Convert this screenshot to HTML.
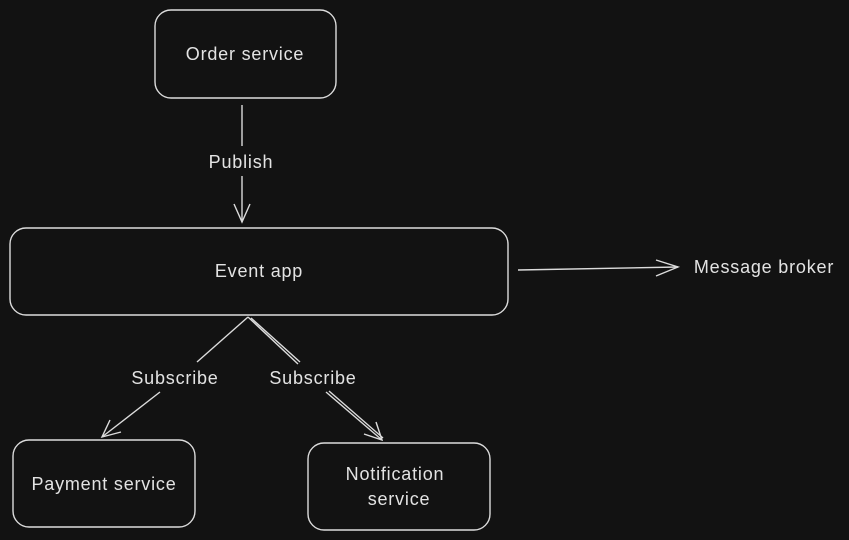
<!DOCTYPE html>
<html><head><meta charset="utf-8"><style>
html,body{margin:0;padding:0;background:#121212;}
svg{display:block}
text{font-family:"Liberation Sans",sans-serif;font-size:18px;fill:#e3e3e3;letter-spacing:0.8px;}
</style></head><body>
<svg width="849" height="540" viewBox="0 0 849 540">
<rect width="849" height="540" fill="#121212"/>
<g fill="none" stroke="#dcdcdc" stroke-width="1.4">
<rect x="155" y="10" width="181" height="88" rx="16"/>
<rect x="10" y="228" width="498" height="87" rx="16"/>
<rect x="13" y="440" width="182" height="87" rx="16"/>
<rect x="308" y="443" width="182" height="87" rx="16"/>
<line x1="242" y1="105" x2="242" y2="146"/>
<line x1="242" y1="176" x2="242" y2="222"/>
<polyline points="234,204 242,222 250,204"/>
<line x1="518" y1="270" x2="678" y2="267"/>
<polyline points="656,260 678,267 656,276"/>
<line x1="248" y1="317" x2="197" y2="362"/>
<line x1="160" y1="392" x2="102" y2="437"/>
<polyline points="110,420 102,437 121,432"/>
<line x1="248" y1="317" x2="298" y2="364"/>
<line x1="251" y1="318" x2="300" y2="362"/>
<line x1="326" y1="392" x2="382" y2="440"/>
<line x1="329" y1="391" x2="383" y2="438"/>
<polyline points="364,434 382,440 376,422"/>
</g>
<text x="245" y="60" text-anchor="middle">Order service</text>
<text x="241" y="168" text-anchor="middle">Publish</text>
<text x="259" y="277" text-anchor="middle">Event app</text>
<text x="764" y="273" text-anchor="middle">Message broker</text>
<text x="175" y="384" text-anchor="middle">Subscribe</text>
<text x="313" y="384" text-anchor="middle">Subscribe</text>
<text x="104" y="490" text-anchor="middle">Payment service</text>
<text x="395" y="480" text-anchor="middle">Notification</text>
<text x="399" y="505" text-anchor="middle">service</text>
</svg>
</body></html>
